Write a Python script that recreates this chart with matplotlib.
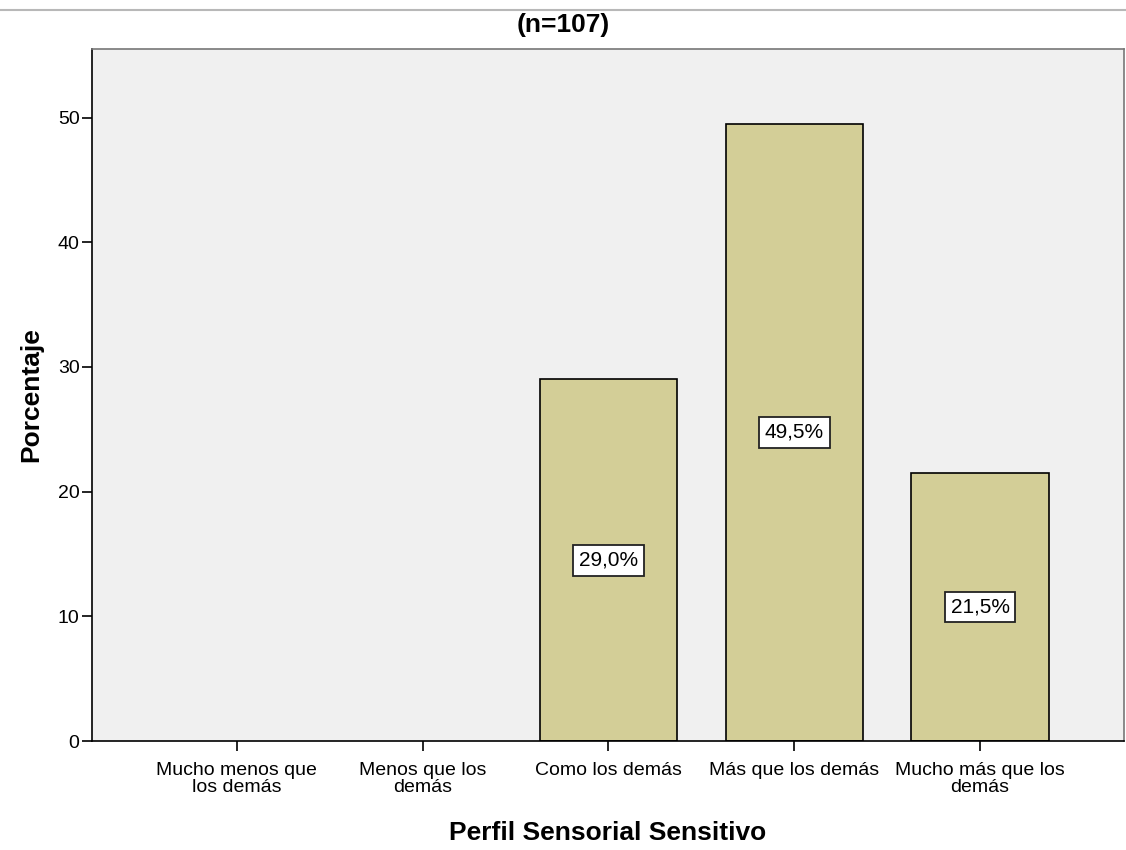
import numpy as np
import matplotlib.pyplot as plt
from matplotlib.lines import Line2D

plt.rcParams['font.family'] = ['Liberation Sans', 'DejaVu Sans']

categorias = ["Mucho menos que\nlos demás", "Menos que los\ndemás", "Como los demás",
              "Más que los demás", "Mucho más que los\ndemás"]
porcentajes = [0.0, 0.0, 29.0, 49.5, 21.5]
etiquetas = ["", "", "29,0%", "49,5%", "21,5%"]

fig = plt.figure(figsize=(11.26, 8.5), dpi=100)
ax = fig.add_axes([92/1126, 1 - 741/850, (1124 - 92)/1126, (741 - 49)/850])
ax.set_facecolor('#f0f0f0')

x = np.arange(len(categorias))
anchos = [1.2 if v > 0 else 0 for v in porcentajes]
ax.bar(x, porcentajes, width=0.74, color='#d3ce97', edgecolor='black', linewidth=anchos)
for xi, v, txt in zip(x, porcentajes, etiquetas):
    if txt:
        ax.text(xi, v / 2, txt, ha='center', va='center', fontsize=15,
                bbox=dict(boxstyle='square,pad=0.28', facecolor='white', edgecolor='#222222', linewidth=1.3))

ax.set_xlim(-0.78, 4.775)
ax.set_ylim(0, 55.5)
ax.set_yticks([0, 10, 20, 30, 40, 50])
ax.set_xticks(x)
ax.set_xticklabels(categorias, fontsize=14, linespacing=1.0)
ax.tick_params(axis='y', labelsize=14, length=7, width=1.2, pad=2)
ax.tick_params(axis='x', length=7, width=1.2, pad=8)
for s in ax.spines.values():
    s.set_linewidth(1.2)
ax.spines['top'].set_color('#777777')
ax.spines['right'].set_color('#777777')

ax.set_ylabel("Porcentaje", fontsize=19, fontweight='bold', labelpad=10)
ax.set_xlabel("Perfil Sensorial Sensitivo", fontsize=19, fontweight='bold', labelpad=18)
fig.text(0.5, 1 - 25/850, "(n=107)", ha='center', va='center', fontsize=19, fontweight='bold')

# linea gris superior
fig.add_artist(Line2D([0, 1], [1 - 10/850, 1 - 10/850], color='#b8b8b8', linewidth=1.5))

fig.savefig('out.png', dpi=100)
